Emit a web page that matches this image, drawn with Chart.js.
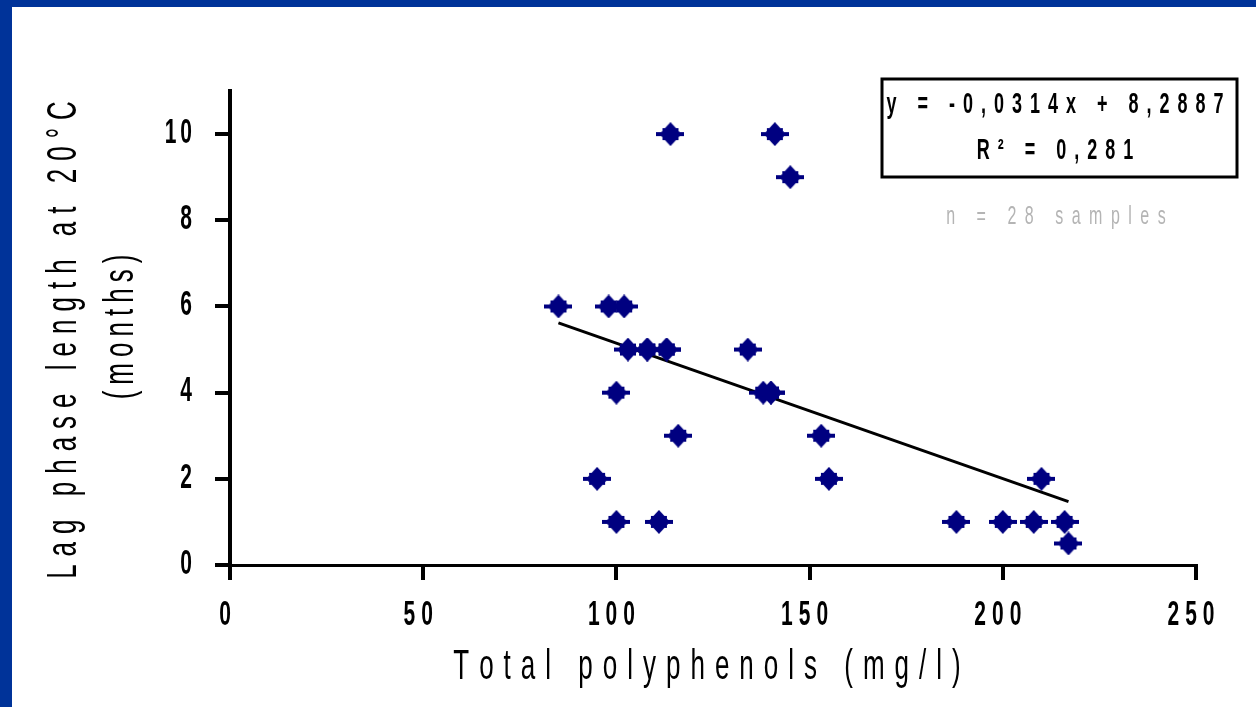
<!DOCTYPE html>
<html>
<head>
<meta charset="utf-8">
<script src="https://cdn.jsdelivr.net/npm/chart.js@4.4.0/dist/chart.umd.min.js"></script>
<style>
  html, body { margin: 0; padding: 0; background: #fff; }
  #frame { width: 1244px; height: 700px; border-left: 12px solid #003399; border-top: 7px solid #003399; background: #fff; }
  canvas { display: block; }
</style>
</head>
<body>
<div id="frame"><canvas id="chart" width="1244" height="700"></canvas></div>
<script>
// --- data ---
const polyphenols = [85, 98, 102, 103, 108, 108, 113, 113, 134, 100, 138, 140, 140, 116, 153, 95, 155, 100, 111, 114, 141, 145, 210, 188, 200, 208, 216, 217];
const lagMonths   = [6, 6, 6, 5, 5, 5, 5, 5, 5, 4, 4, 4, 4, 3, 3, 2, 2, 1, 1, 10, 10, 9, 2, 1, 1, 1, 1, 0.5];

// trend line end points (linear fit shown in the box)
const trendX = [85, 217];
const trendY = [5.62, 1.47];

const xTicks = [0, 50, 100, 150, 200, 250];
const yTicks = [0, 2, 4, 6, 8, 10];

const xTitle = 'Total polyphenols (mg/l)';
const yTitle = ['Lag phase length at 20°C', '(months)'];
const equationLines = ['y = -0,0314x + 8,2887', 'R² = 0,281'];
const sampleNote = 'n = 28 samples';

const NAVY = '#000080';
const FONT = '"Liberation Sans", Arial, sans-serif';

// marker: chunky diamond with a horizontal bar through it
function makeMarker() {
    const c = document.createElement('canvas');
    c.width = 28; c.height = 24;
    const g = c.getContext('2d');
    g.fillStyle = NAVY;
    g.beginPath();
    g.moveTo(14, 0);
    g.lineTo(25, 12);
    g.lineTo(14, 24);
    g.lineTo(3, 12);
    g.closePath();
    g.fill();
    g.fillRect(6, 6, 16, 12);
    g.fillRect(0, 10, 28, 4);
    return c;
}

// text drawn letter by letter, stretched vertically like the old picture
function spacedText(ctx, text, x, y, opts) {
    ctx.save();
    ctx.translate(x, y);
    if (opts.rotate) ctx.rotate(opts.rotate);
    ctx.scale(1, opts.stretch || 1);
    ctx.font = opts.font;
    ctx.fillStyle = opts.color || '#000';
    ctx.textBaseline = 'middle';
    ctx.textAlign = 'left';
    const sp = opts.spacing || 0;
    const chars = [...text];
    const widths = chars.map(ch => ctx.measureText(ch).width);
    const total = widths.reduce((a, b) => a + b, 0) + sp * (chars.length - 1);
    let cx = opts.align === 'right' ? -total : (opts.align === 'left' ? 0 : -total / 2);
    chars.forEach((ch, i) => {
        ctx.fillText(ch, cx, 0);
        cx += widths[i] + sp;
    });
    ctx.restore();
}

const textPlugin = {
    id: 'oldText',
    afterDraw(chart) {
        const ctx = chart.ctx;
        const area = chart.chartArea;
        const xs = chart.scales.x;
        const ys = chart.scales.y;

        // tick labels
        xTicks.forEach(v => {
            spacedText(ctx, String(v), xs.getPixelForValue(v) - 5, area.bottom + 50,
                { font: 'bold 21px ' + FONT, spacing: 6, stretch: 1.7 });
        });
        yTicks.forEach(v => {
            spacedText(ctx, String(v), area.left - 38, ys.getPixelForValue(v) - 1,
                { font: 'bold 21px ' + FONT, spacing: 4, stretch: 1.7, align: 'right' });
        });

        // axis titles
        spacedText(ctx, xTitle, 695, 661, { font: '26px ' + FONT, spacing: 10, stretch: 1.6 });
        spacedText(ctx, yTitle[0], 53, 333, { font: '26px ' + FONT, spacing: 8, stretch: 1.6, rotate: -Math.PI / 2 });
        spacedText(ctx, yTitle[1], 110, 320, { font: '26px ' + FONT, spacing: 6, stretch: 1.6, rotate: -Math.PI / 2 });

        // equation box
        ctx.save();
        ctx.strokeStyle = '#000';
        ctx.lineWidth = 3;
        ctx.fillStyle = '#fff';
        ctx.fillRect(870, 72, 355, 98);
        ctx.strokeRect(870, 72, 355, 98);
        ctx.restore();
        spacedText(ctx, equationLines[0], 1043, 98, { font: 'bold 18px ' + FONT, spacing: 8, stretch: 1.6 });
        spacedText(ctx, equationLines[1], 1043, 144, { font: 'bold 18px ' + FONT, spacing: 8, stretch: 1.6 });

        spacedText(ctx, sampleNote, 1044, 210, { font: '16px ' + FONT, spacing: 8.5, stretch: 1.6, color: '#b4b4b4' });
    }
};

const ctx = document.getElementById('chart').getContext('2d');
const chart = new Chart(ctx, {
    type: 'scatter',
    data: {
        datasets: [
            {
                label: 'Trend',
                type: 'line',
                data: trendX.map((x, i) => ({ x: x, y: trendY[i] })),
                borderColor: '#000',
                borderWidth: 3,
                pointRadius: 0,
                fill: false,
                order: 2
            },
            {
                label: 'Samples',
                data: polyphenols.map((x, i) => ({ x: x, y: lagMonths[i] })),
                pointStyle: makeMarker(),
                pointRadius: 12,
                order: 1
            }
        ]
    },
    options: {
        responsive: false,
        animation: false,
        events: [],
        layout: { padding: { left: 0, top: 84, right: 60, bottom: 0 } },
        plugins: {
            legend: { display: false },
            tooltip: { enabled: false }
        },
        scales: {
            x: {
                type: 'linear',
                min: 0,
                max: 250,
                afterBuildTicks: s => { s.ticks = xTicks.map(v => ({ value: v })); },
                afterFit: s => { s.height = 142; },
                ticks: { display: false },
                grid: { drawOnChartArea: false, drawTicks: true, tickLength: 15, color: '#000', lineWidth: 4 },
                border: { display: true, color: '#000', width: 3 }
            },
            y: {
                type: 'linear',
                min: 0,
                max: 11,
                afterBuildTicks: s => { s.ticks = yTicks.map(v => ({ value: v })); },
                afterFit: s => { s.width = 218; },
                ticks: { display: false },
                grid: { drawOnChartArea: false, drawTicks: true, tickLength: 15, color: '#000', lineWidth: 4 },
                border: { display: true, color: '#000', width: 4 }
            }
        }
    },
    plugins: [textPlugin]
});
</script>
</body>
</html>
